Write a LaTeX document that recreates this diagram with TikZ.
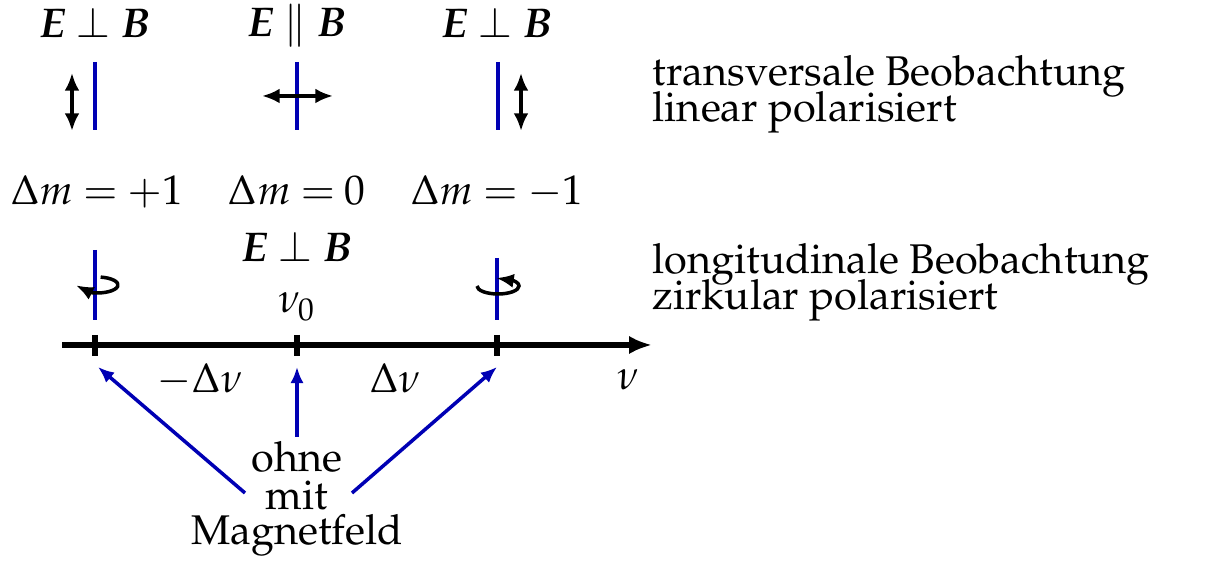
\documentclass[tikz,border=0pt]{standalone}
\usepackage[T1]{fontenc}
\usepackage{mathpazo}
\usepackage{amsmath,bm}
\usetikzlibrary{arrows.meta,bending}
\definecolor{lineblue}{RGB}{0,0,180}
\thickmuskip=4.2mu plus 2mu
\begin{document}
\begin{tikzpicture}[x=0.01cm,y=0.01cm,
  lbl/.style={inner sep=0pt, font=\fontsize{11.8}{14.2}\selectfont},
  spec/.style={draw=lineblue, line width=1pt},
  pol/.style={draw=black, line width=1pt, {Latex[length=5pt,width=4.2pt]}-{Latex[length=5pt,width=4.2pt]}},
  circ/.style={draw=black, line width=1pt, -{Latex[length=5pt,width=4pt,flex]}},
  axis/.style={draw=black, line width=1.5pt, -{Latex[length=6.5pt,width=5.2pt]}},
  tick/.style={draw=black, line width=1.5pt},
  ptr/.style={draw=lineblue, line width=1pt, -{Latex[length=4.6pt,width=3.8pt]}}]
\useasboundingbox (0,0) rectangle (1209,-571);

% top headers
\node[lbl, anchor=base] (h1) at (95,-38) {$\bm{E}\perp\bm{B}$};
\node[lbl, anchor=base] (h2) at (297,-37) {$\bm{E}\parallel\bm{B}$};
\node[lbl, anchor=base] (h3) at (497,-38) {$\bm{E}\perp\bm{B}$};

% transverse lines
\coordinate (t1a) at (95,-62);  \coordinate (t1b) at (95,-130);
\coordinate (t2a) at (297,-62); \coordinate (t2b) at (297,-130);
\coordinate (t3a) at (498,-62); \coordinate (t3b) at (498,-130);
\draw[spec] (t1a) -- (t1b);
\draw[spec] (t2a) -- (t2b);
\draw[spec] (t3a) -- (t3b);

% polarisation arrows
\coordinate (p1a) at (72,-73);  \coordinate (p1b) at (72,-131);
\coordinate (p2a) at (262,-96); \coordinate (p2b) at (333,-96);
\coordinate (p3a) at (521,-73); \coordinate (p3b) at (521,-131);
\draw[pol] (p1a) -- (p1b);
\draw[pol] (p2a) -- (p2b);
\draw[pol] (p3a) -- (p3b);

% right texts
\node[lbl, anchor=base west] (r1) at (652,-86) {transversale Beobachtung};
\node[lbl, anchor=base west] (r2) at (652,-122) {linear polarisiert};
\node[lbl, anchor=base west] (r3) at (652,-274) {longitudinale Beobachtung};
\node[lbl, anchor=base west] (r4) at (652,-310) {zirkular polarisiert};

% delta m
\node[lbl, anchor=base] (m1) at (97,-205) {$\Delta m = +1$};
\node[lbl, anchor=base] (m2) at (297,-205) {$\Delta m = 0$};
\node[lbl, anchor=base] (m3) at (497,-205) {$\Delta m = -1$};

\node[lbl, anchor=base] (h4) at (297,-262) {$\bm{E}\perp\bm{B}$};

% longitudinal lines
\coordinate (l1a) at (95,-250);  \coordinate (l1b) at (95,-320);
\coordinate (l3a) at (497,-258); \coordinate (l3b) at (497,-320);
\draw[spec] (l1a) -- (l1b);
\draw[spec] (l3a) -- (l3b);

% circular arrows
\draw[circ] ([shift={(80:21 and 8)}]97,-285) arc[start angle=80, end angle=-178, x radius=21, y radius=8];
\draw[circ] ([shift={(180:21 and 8)}]498,-286) arc[start angle=180, end angle=455, x radius=21, y radius=8];

\node[lbl, anchor=base] (nu0) at (297,-313) {$\nu_0$};

% axis
\coordinate (ax0) at (62,-345);
\coordinate (ax1) at (652,-345);
\draw[axis] (ax0) -- (ax1);
\foreach \x/\n in {95/k1,297/k2,497/k3}{
  \coordinate (\n) at (\x,-345);
  \draw[tick] (\x,-335) -- (\x,-356);
}

\node[lbl, anchor=base] (dn1) at (200,-393) {$-\Delta\nu$};
\node[lbl, anchor=base] (dn2) at (395,-393) {$\Delta\nu$};
\node[lbl, anchor=base] (nu) at (628,-390) {$\nu$};

% bottom labels
\node[lbl, anchor=base] (ohne) at (297,-472) {ohne};
\node[lbl, anchor=base] (mit) at (297,-510) {mit};
\node[lbl, anchor=base] (mag) at (297,-545) {Magnetfeld};

\coordinate (s1) at (245,-493);
\coordinate (s2) at (297,-437);
\coordinate (s3) at (352,-493);
\coordinate (e1) at (98,-367);
\coordinate (e2) at (297,-367);
\coordinate (e3) at (497,-367);
\draw[ptr] (s1) -- (e1);
\draw[ptr] (s2) -- (e2);
\draw[ptr] (s3) -- (e3);
\end{tikzpicture}
\end{document}
